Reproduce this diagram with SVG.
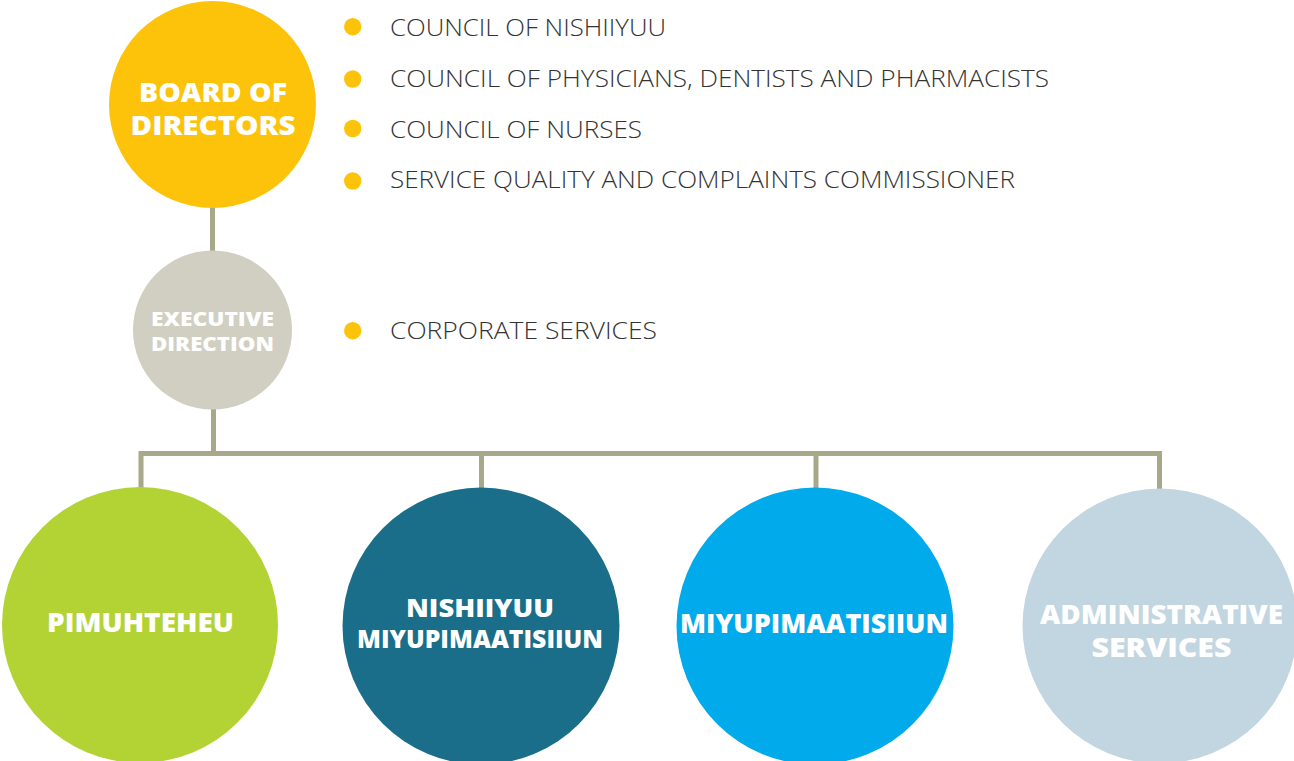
<svg xmlns="http://www.w3.org/2000/svg" width="1294" height="761" viewBox="0 0 1294 761">
  <style>
    .link { fill: none; stroke: #a8a88a; stroke-width: 5; stroke-linejoin: miter; }
    .lbl { font-family: "Open Sans", "Liberation Sans", sans-serif; font-weight: 800; fill: #ffffff; text-anchor: middle; }
    .item { font-family: "Open Sans", "Liberation Sans", sans-serif; font-weight: 300; font-size: 23px; fill: #333333; }
    .dot { fill: #fdc30b; }
  </style>
  <rect width="1294" height="761" fill="#ffffff"/>

  <!-- connectors -->
  <g id="connectors">
    <line class="link" x1="212.5" y1="200" x2="212.5" y2="260"/>
    <line class="link" x1="213.5" y1="400" x2="213.5" y2="453.5"/>
    <polyline class="link" points="141,495 141,453.5 1159.5,453.5 1159.5,495"/>
    <line class="link" x1="481.5" y1="453.5" x2="481.5" y2="495"/>
    <line class="link" x1="816" y1="453.5" x2="816" y2="495"/>
  </g>

  <!-- board of directors -->
  <g id="board">
    <circle cx="212.5" cy="104.5" r="103.5" fill="#fdc30b"/>
    <text class="lbl" font-size="26" x="213" y="102" textLength="148" lengthAdjust="spacingAndGlyphs">BOARD OF</text>
    <text class="lbl" font-size="26" x="213" y="135" textLength="165" lengthAdjust="spacingAndGlyphs">DIRECTORS</text>
  </g>

  <!-- executive direction -->
  <g id="executive">
    <circle cx="212.5" cy="330" r="79.5" fill="#d0cfc2"/>
    <text class="lbl" font-size="19" x="212.5" y="326" textLength="123" lengthAdjust="spacingAndGlyphs">EXECUTIVE</text>
    <text class="lbl" font-size="19" x="212.5" y="351" textLength="123" lengthAdjust="spacingAndGlyphs">DIRECTION</text>
  </g>

  <!-- committees reporting to the board -->
  <g id="board-items">
    <circle class="dot" cx="352.7" cy="26.7" r="8.7"/>
    <text class="item" x="390" y="36" textLength="276" lengthAdjust="spacingAndGlyphs">COUNCIL OF NISHIIYUU</text>
    <circle class="dot" cx="352.7" cy="79" r="8.7"/>
    <text class="item" x="390" y="87" textLength="659" lengthAdjust="spacingAndGlyphs">COUNCIL OF PHYSICIANS, DENTISTS AND PHARMACISTS</text>
    <circle class="dot" cx="352.7" cy="128.5" r="8.7"/>
    <text class="item" x="390" y="138" textLength="252" lengthAdjust="spacingAndGlyphs">COUNCIL OF NURSES</text>
    <circle class="dot" cx="352.7" cy="181" r="8.7"/>
    <text class="item" x="390" y="188" textLength="625" lengthAdjust="spacingAndGlyphs">SERVICE QUALITY AND COMPLAINTS COMMISSIONER</text>
  </g>

  <g id="executive-items">
    <circle class="dot" cx="352.7" cy="330.7" r="8.7"/>
    <text class="item" x="390" y="339" textLength="267" lengthAdjust="spacingAndGlyphs">CORPORATE SERVICES</text>
  </g>

  <!-- operational directions -->
  <g id="pimuhteheu">
    <circle cx="140" cy="625" r="138" fill="#b3d334"/>
    <text class="lbl" font-size="27" x="140.5" y="632" textLength="187" lengthAdjust="spacingAndGlyphs">PIMUHTEHEU</text>
  </g>

  <g id="nishiiyuu">
    <circle cx="481" cy="626" r="138.5" fill="#1a6e89"/>
    <text class="lbl" font-size="24" x="480" y="617" textLength="148" lengthAdjust="spacingAndGlyphs">NISHIIYUU</text>
    <text class="lbl" font-size="24" x="480" y="648" textLength="246" lengthAdjust="spacingAndGlyphs">MIYUPIMAATISIIUN</text>
  </g>

  <g id="miyupimaatisiiun">
    <circle cx="815" cy="626" r="138.5" fill="#00aaeb"/>
    <text class="lbl" font-size="26" x="814" y="633" textLength="268" lengthAdjust="spacingAndGlyphs">MIYUPIMAATISIIUN</text>
  </g>

  <g id="administrative">
    <circle cx="1160" cy="626" r="137.5" fill="#c2d6e2"/>
    <text class="lbl" font-size="26" x="1161.5" y="624" textLength="243" lengthAdjust="spacingAndGlyphs">ADMINISTRATIVE</text>
    <text class="lbl" font-size="26" x="1161.5" y="657" textLength="140" lengthAdjust="spacingAndGlyphs">SERVICES</text>
  </g>
</svg>
